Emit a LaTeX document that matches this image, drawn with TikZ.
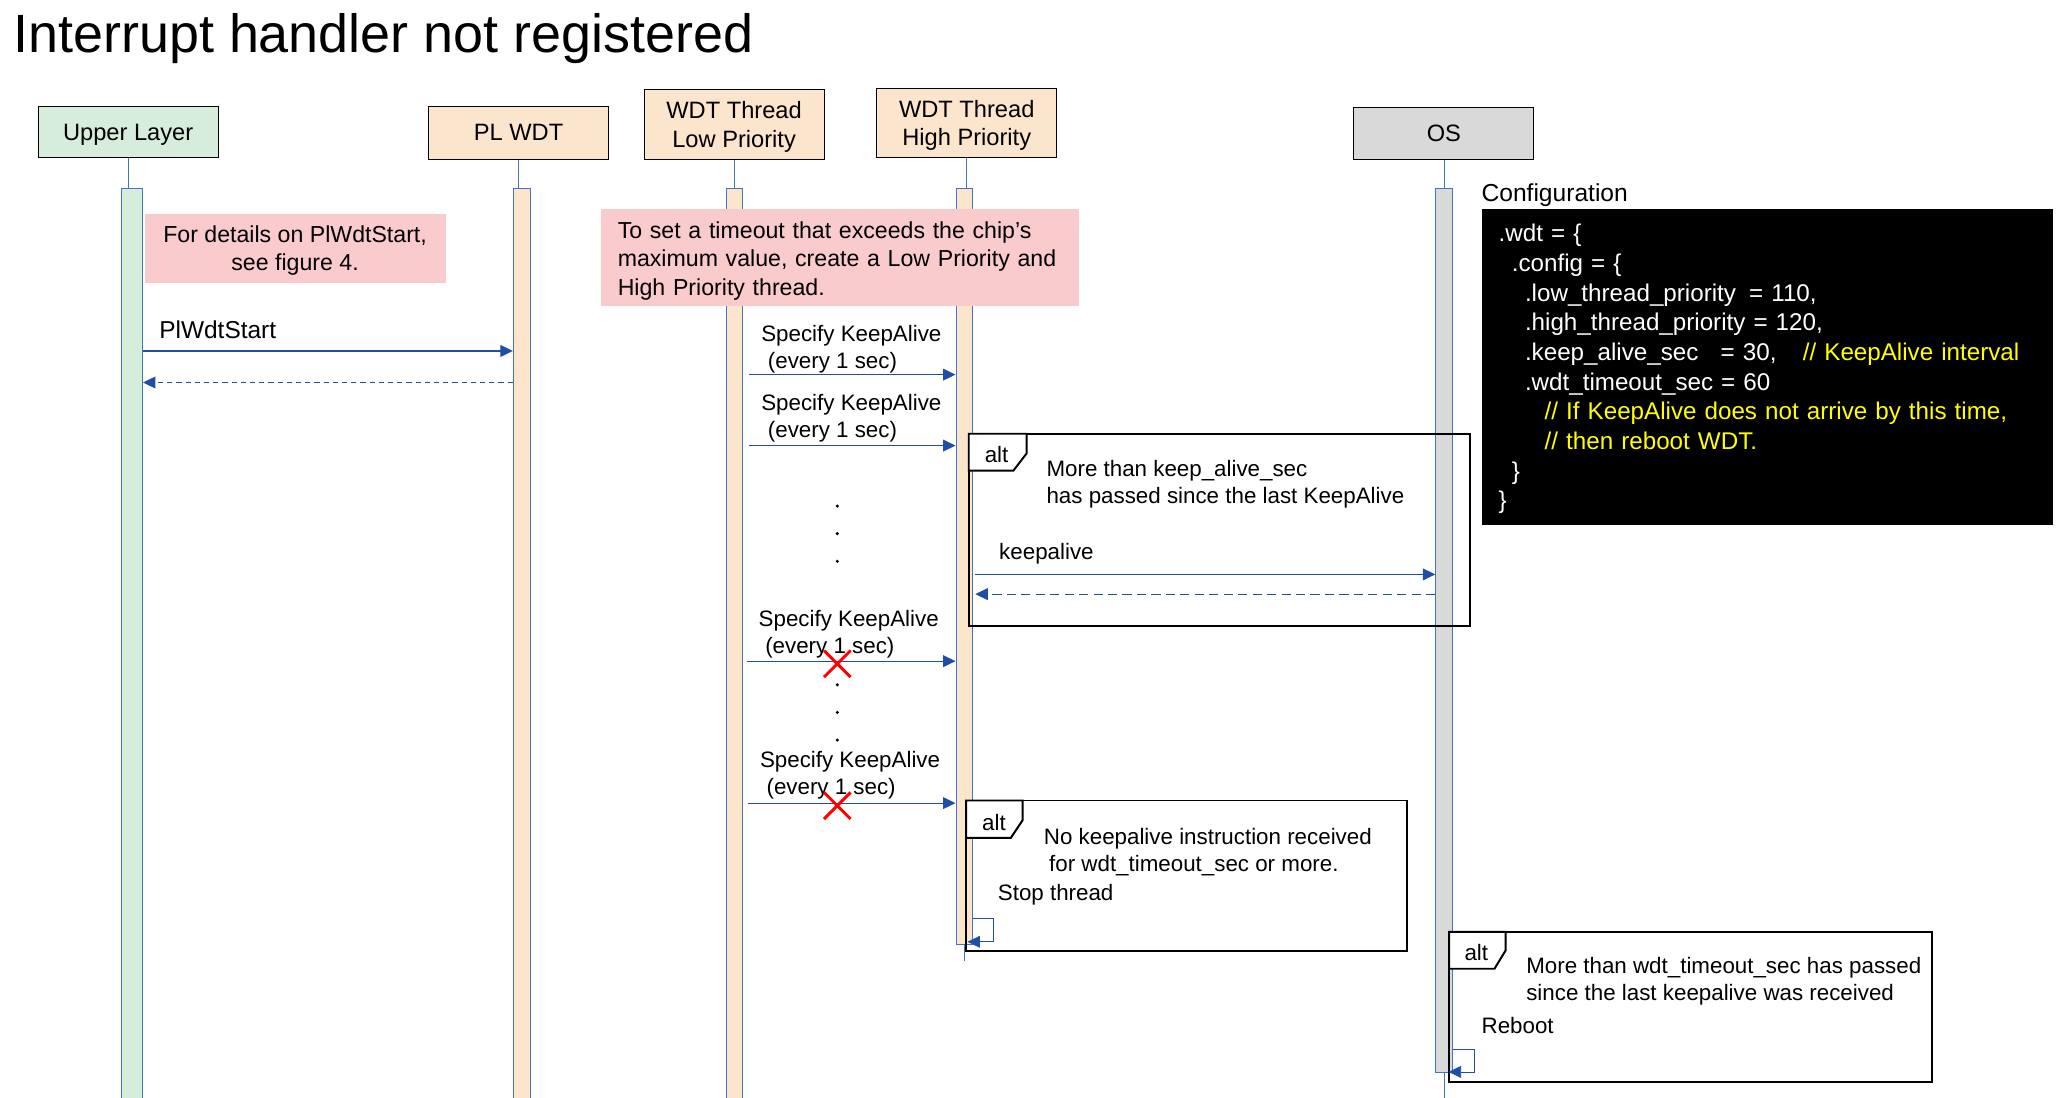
\documentclass[tikz,border=0pt]{standalone}
\usepackage{fontspec}
\setmainfont{Liberation Sans}
\usepackage{xcolor}
\definecolor{headgreen}{RGB}{213,237,218}
\definecolor{headpeach}{RGB}{252,229,205}
\definecolor{headgray}{RGB}{217,217,217}
\definecolor{notepink}{RGB}{249,203,205}
\definecolor{lineblue}{RGB}{68,114,196}
\definecolor{msgblue}{RGB}{31,78,168}
\definecolor{codeyellow}{RGB}{255,255,0}
\newcommand{\txtfont}{\fontsize{18}{22}\selectfont}
\newcommand{\msgfont}{\fontsize{17}{20.5}\selectfont}
\newcommand{\notefont}{\fontsize{17.6}{21.5}\selectfont}
\newcommand{\codefont}{\fontsize{18.4}{22.6}\selectfont}
\usetikzlibrary{arrows.meta,positioning,shapes.misc}

\begin{document}
\begin{tikzpicture}[x=1pt,y=-1pt,>={Triangle[length=9.5pt,width=9pt]},
                    every node/.style={font=\txtfont},
                    head/.style={draw=black,line width=0.8pt,minimum width=137pt,align=center,inner sep=0pt,text depth=0pt},
                    bar/.style={draw=lineblue,line width=0.6pt,minimum width=12.5pt,inner sep=0pt,anchor=north},
                    life/.style={draw=lineblue,line width=0.6pt},
                    msg/.style={->,draw=msgblue,line width=0.9pt},
                    ret/.style={msg,dash pattern=on 4pt off 3pt},
                    selfmsg/.style={->,draw=msgblue,line width=0.6pt},
                    note/.style={fill=notepink,inner sep=0pt,font=\notefont},
                    lbl/.style={anchor=west,inner sep=0pt,align=left,font=\msgfont},
                    frame/.style={draw=black,line width=1.5pt},
                    tag/.style={draw=black,line width=1.5pt,fill=white},
                    nogo/.style={cross out,draw=red,line width=2.2pt,minimum width=18pt,minimum height=18pt,inner sep=0pt},
                ]
  \useasboundingbox (0,0) rectangle (1568,835.3);

  % title
  \node[anchor=base west,inner sep=0pt,font=\fontsize{41}{48}\selectfont] (title) at (10,40) {Interrupt handler not registered};

  % lifeline heads
  \node[head,fill=headgreen,minimum height=39pt] (UL) at (97.5,100.5) {Upper Layer};
  \node[head,fill=headpeach,minimum height=40pt] (PW) at (394.5,101)  {PL WDT};
  \node[head,fill=headpeach,minimum height=53pt] (TL) at (558.5,94.5) {WDT Thread\\Low Priority};
  \node[head,fill=headpeach,minimum height=53pt] (TH) at (735.5,93.5) {WDT Thread\\High Priority};
  \node[head,fill=headgray,minimum height=39pt]  (OS) at (1098.5,101.5) {OS};

  % activation bars
  \node[bar,fill=headgreen,minimum width=16pt,minimum height=694pt] (ULb) [below=23pt of UL,xshift=3pt] {};
  \node[bar,fill=headpeach,minimum width=13pt,minimum height=694pt] (PWb) [below=22pt of PW,xshift=2.5pt] {};
  \node[bar,fill=headpeach,minimum height=694pt] (TLb) [below=22pt of TL] {};
  \node[bar,fill=headpeach,minimum height=575pt] (THb) [below=23pt of TH,xshift=-2pt] {};
  \node[bar,fill=headgray,minimum height=672pt]  (OSb) [below=22pt of OS] {};

  \draw[life] (UL.south) -- (UL.south |- ULb.north)
              (PW.south) -- (PW.south |- PWb.north)
              (TL.south) -- (TLb.north)
              (TH.south) -- (TH.south |- THb.north)
              (OS.south) -- (OSb.north);
  \draw[life] (THb.south) -- ++(0,12);
  \draw[life] (OSb.south) -- ++(0,21);

  % notes
  \node[note,minimum width=229pt,minimum height=52pt,align=center,text depth=0pt] (n1) at (224.5,189) {For details on PlWdtStart,\\see figure 4.};
  \node[note,minimum width=364pt,minimum height=74pt,align=left,text width=338pt] (n2) at (639,196)
       {\rule{0pt}{17.7pt}To set a timeout that exceeds the chip's\\maximum value, create a Low Priority and\\High Priority thread.};

  % configuration
  \node[anchor=base west,inner sep=0pt,font=\fontsize{18.7}{22}\selectfont] (cfgl) at (1127,153) {Configuration};
  \node[fill=black,text=white,anchor=north west,minimum width=435pt,minimum height=240pt,
        inner xsep=13pt,inner ysep=0pt,text width=409pt,align=left,font=\codefont] (cfg) at (1127,159)
       {\rule{0pt}{16.5pt}.wdt = \{\\
        \hspace*{10pt}.config = \{\\
        \hspace*{20pt}.low\_thread\_priority\hspace{10pt}= 110,\\
        \hspace*{20pt}.high\_thread\_priority = 120,\\
        \hspace*{20pt}.keep\_alive\_sec\hspace{17pt}= 30,\hspace{20pt}\textcolor{codeyellow}{// KeepAlive interval}\\
        \hspace*{20pt}.wdt\_timeout\_sec = 60\\
        \hspace*{35pt}\textcolor{codeyellow}{// If KeepAlive does not arrive by this time,}\\
        \hspace*{35pt}\textcolor{codeyellow}{// then reboot WDT.}\\
        \hspace*{10pt}\}\\
        \}};

  % messages
  \node[lbl,font=\fontsize{18.6}{22}\selectfont] (m1) at (121,251) {PlWdtStart};
  \draw[msg] (ULb.east |- 0,267) -- (PWb.west |- 0,267);
  \draw[ret] (PWb.west |- 0,291) -- (ULb.east |- 0,291);

  \node[lbl] (k1) at (579,265.5) {Specify KeepAlive\\\hspace*{5pt}(every 1 sec)};
  \draw[msg] (570,285) -- (THb.west |- 0,285);
  \node[lbl] (k2) at (579,318.5) {Specify KeepAlive\\\hspace*{5pt}(every 1 sec)};
  \draw[msg] (570,339) -- (THb.west |- 0,339);

  \foreach \y in {385,406,427,521,542,563}
    \fill (637,\y) circle (1.3pt);

  \node[lbl] (k3) at (577,482.5) {Specify KeepAlive\\\hspace*{5pt}(every 1 sec)};
  \draw[msg] (568,503) -- (THb.west |- 0,503);
  \node[nogo] (x1) at (637,505) {};
  \node[lbl] (k4) at (578,589.5) {Specify KeepAlive\\\hspace*{5pt}(every 1 sec)};
  \draw[msg] (569,611) -- (THb.west |- 0,611);
  \node[nogo] (x2) at (637,613) {};

  % alt: keepalive to OS
  \draw[frame] (737,330) rectangle (1118.5,476);
  \draw[tag] (737,330) -- (781,330) -- (781,345) -- (771,358) -- (737,358) -- cycle;
  \node[lbl] (a1) at (749,346) {alt};
  \node[lbl] (a1t) at (796,368.5) {More than keep\_alive\_sec\\has passed since the last KeepAlive};
  \node[lbl] (ka) at (760,421) {keepalive};
  \draw[msg] (742,437) -- (OSb.west |- 0,437);
  \draw[msg,dash pattern=on 7pt off 4pt] (OSb.west |- 0,452) -- (742,452);

  % alt: stop thread
  \draw[frame] (735,609) rectangle (1070.5,723.5);
  \draw[tag] (735,609) -- (778,609) -- (778,624) -- (769,637.5) -- (735,637.5) -- cycle;
  \node[lbl] (a2) at (747,625.5) {alt};
  \node[lbl] (a2t) at (794,648) {No keepalive instruction received\\\hspace*{4pt}for wdt\_timeout\_sec or more.};
  \node[lbl] (a2s) at (759,681) {Stop thread};
  \draw[selfmsg] (THb.east |- 0,699) -- ++(16,0) -- ++(0,17.5) -- ++(-20,0);

  % alt: reboot
  \draw[frame] (1102.5,709) rectangle (1470,823.5);
  \draw[tag] (1102.5,709) -- (1145.5,709) -- (1145.5,723) -- (1137,737) -- (1102.5,737) -- cycle;
  \node[lbl] (a3) at (1114,724.5) {alt};
  \node[lbl] (a3t) at (1161,746.5) {More than wdt\_timeout\_sec has passed\\since the last keepalive was received};
  \node[lbl] (a3s) at (1127,780) {Reboot};
  \draw[selfmsg] (OSb.east |- 0,798) -- ++(17,0) -- ++(0,17.5) -- ++(-20,0);
\end{tikzpicture}
\end{document}
